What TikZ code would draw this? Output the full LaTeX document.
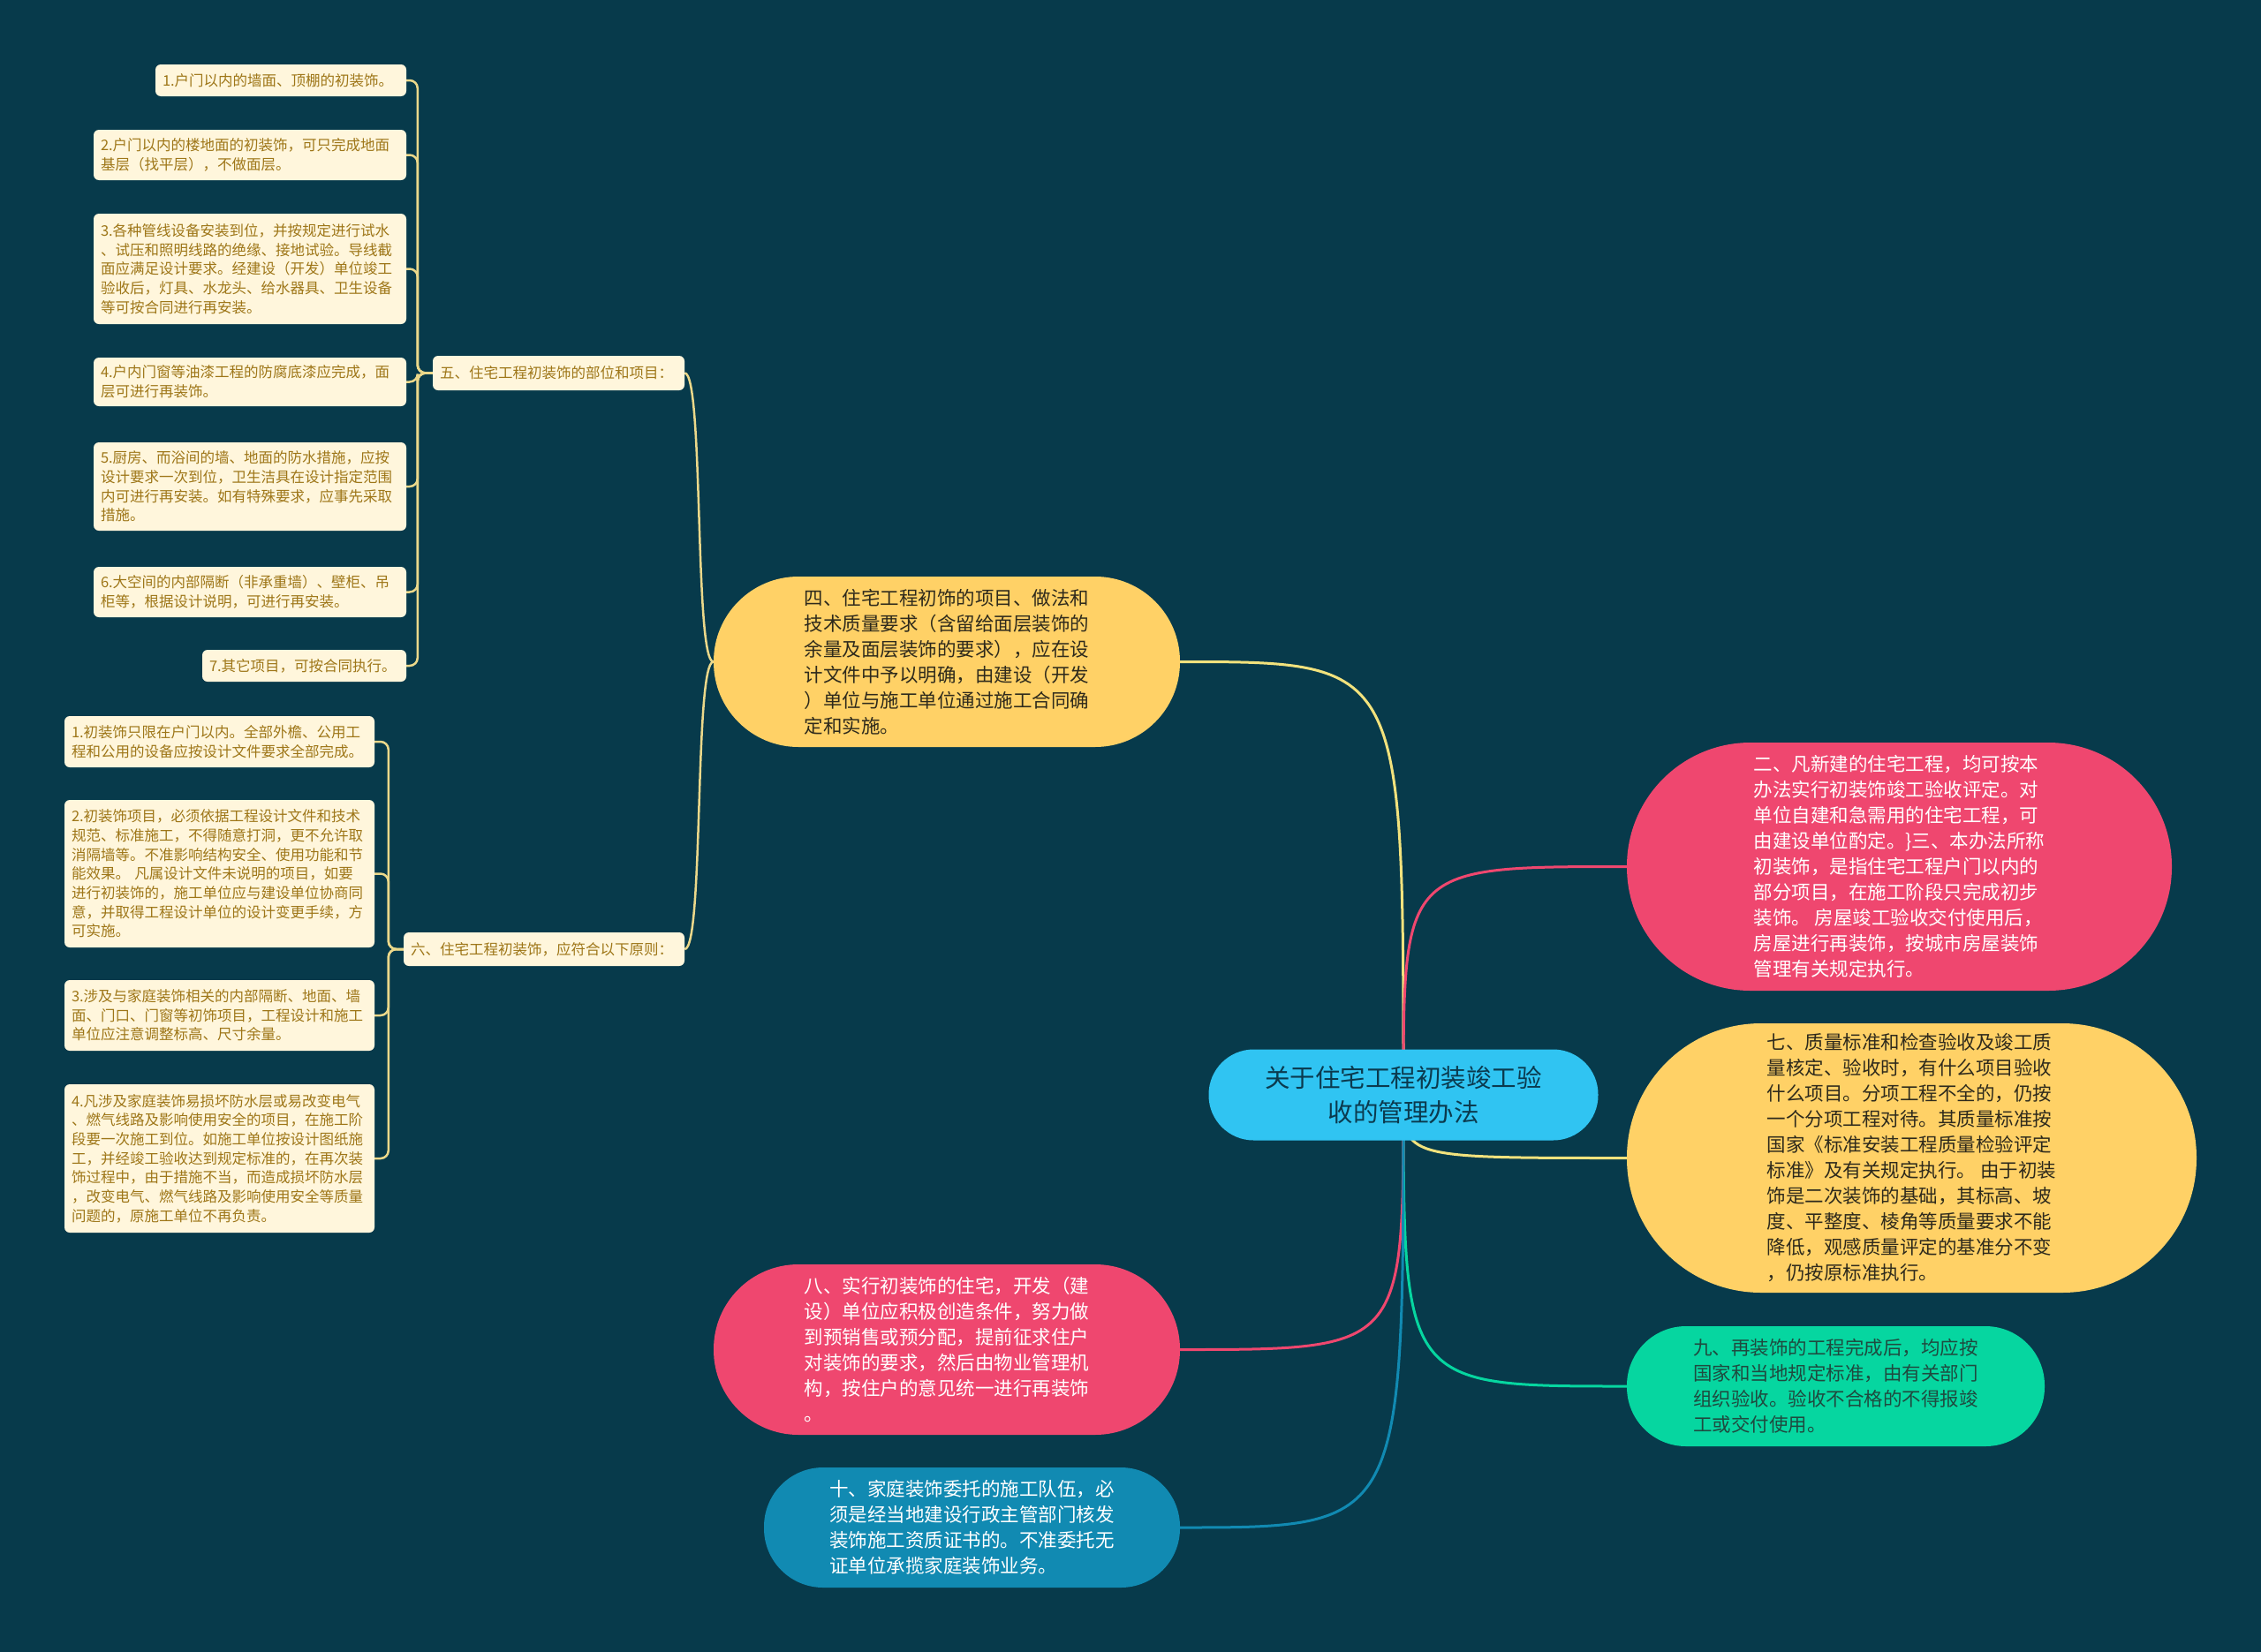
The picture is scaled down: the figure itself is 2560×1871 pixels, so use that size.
\documentclass[tikz,border=0pt]{standalone}
\usepackage{fontspec}
\setmainfont{Noto Sans CJK SC}
\usetikzlibrary{calc}
\definecolor{bgc}{HTML}{073A4B}
\definecolor{leaffill}{HTML}{FFF6DC}
\definecolor{leaftext}{HTML}{9E7618}
\definecolor{bracket}{HTML}{EBD88A}
\definecolor{ylw}{HTML}{F2E27D}
\definecolor{pnk}{HTML}{EF476F}
\definecolor{grn}{HTML}{06D6A0}
\definecolor{blu}{HTML}{118AB2}
\definecolor{cen}{HTML}{30C4F2}
\definecolor{yfill}{HTML}{FFD166}
\definecolor{darktxt}{HTML}{2E2A1C}
\definecolor{grntxt}{HTML}{1F4A3F}
\definecolor{centxt}{HTML}{0B3A4E}
\pgfdeclarelayer{back}
\pgfdeclarelayer{edges}
\pgfsetlayers{back,edges,main}
\begin{document}
\begin{tikzpicture}[x=1pt,y=-1pt,
  leaf/.style={fill=leaffill, text=leaftext, rounded corners=6pt, inner xsep=8pt, inner ysep=0pt, align=left, font=\fontsize{16.5}{21.7}\selectfont},
  big/.style={align=left, inner sep=0pt, font=\fontsize{21.5}{29}\selectfont},
  conn/.style={line width=3pt},
  bline/.style={draw=bracket, line width=2.5pt},
]
\begin{pgfonlayer}{back}
\fill[bgc] (0,0) rectangle (2560,1871);
\end{pgfonlayer}
\useasboundingbox (0,0) rectangle (2560,1871);

% central
\node[fill=cen, text=centxt, align=center, inner sep=0pt, minimum width=441pt, minimum height=103pt, rounded corners=51pt, font=\fontsize{28.5}{39}\selectfont] (c) at (1589,1240) {关于住宅工程初装竣工验\\收的管理办法};

% main branches
\node[big, fill=yfill, text=darktxt, minimum width=528pt, minimum height=193pt, rounded corners=96pt] (s4) at (1072,749.5) {四、住宅工程初饰的项目、做法和\\技术质量要求（含留给面层装饰的\\余量及面层装饰的要求），应在设\\计文件中予以明确，由建设（开发\\）单位与施工单位通过施工合同确\\定和实施。};

\node[big, fill=pnk, text=white, minimum width=617pt, minimum height=281pt, rounded corners=140pt] (s2) at (2150.5,981.5) {二、凡新建的住宅工程，均可按本\\办法实行初装饰竣工验收评定。对\\单位自建和急需用的住宅工程，可\\由建设单位酌定。\}三、本办法所称\\初装饰，是指住宅工程户门以内的\\部分项目，在施工阶段只完成初步\\装饰。 房屋竣工验收交付使用后，\\房屋进行再装饰，按城市房屋装饰\\管理有关规定执行。};

\node[big, fill=yfill, text=darktxt, minimum width=645pt, minimum height=305pt, rounded corners=152pt] (s7) at (2164.5,1311.5) {七、质量标准和检查验收及竣工质\\量核定、验收时，有什么项目验收\\什么项目。分项工程不全的，仍按\\一个分项工程对待。其质量标准按\\国家《标准安装工程质量检验评定\\标准》及有关规定执行。 由于初装\\饰是二次装饰的基础，其标高、坡\\度、平整度、棱角等质量要求不能\\降低，观感质量评定的基准分不变\\，仍按原标准执行。};

\node[big, fill=grn, text=grntxt, minimum width=473pt, minimum height=136pt, rounded corners=67pt] (s9) at (2078.5,1570) {九、再装饰的工程完成后，均应按\\国家和当地规定标准，由有关部门\\组织验收。验收不合格的不得报竣\\工或交付使用。};

\node[big, fill=pnk, text=white, minimum width=528pt, minimum height=193pt, rounded corners=96pt] (s8) at (1072,1528.5) {八、实行初装饰的住宅，开发（建\\设）单位应积极创造条件，努力做\\到预销售或预分配，提前征求住户\\对装饰的要求，然后由物业管理机\\构，按住户的意见统一进行再装饰\\。};

\node[big, fill=blu, text=white, minimum width=471pt, minimum height=136pt, rounded corners=67pt] (s10) at (1100.5,1730) {十、家庭装饰委托的施工队伍，必\\须是经当地建设行政主管部门核发\\装饰施工资质证书的。不准委托无\\证单位承揽家庭装饰业务。};

% labels
\node[leaf, text width=269pt, minimum height=39pt] (l5) at (632.5,422.5) {五、住宅工程初装饰的部位和项目：};
\node[leaf, text width=302pt, minimum height=38pt] (l6) at (616,1075) {六、住宅工程初装饰，应符合以下原则：};

% leaves of five
\node[leaf, text width=268pt, minimum height=36pt] (a1) at (318,91) {1.户门以内的墙面、顶棚的初装饰。};
\node[leaf, text width=338pt, minimum height=57pt] (a2) at (283,175.5) {2.户门以内的楼地面的初装饰，可只完成地面\\基层（找平层），不做面层。};
\node[leaf, text width=338pt, minimum height=125pt] (a3) at (283,304.5) {3.各种管线设备安装到位，并按规定进行试水\\、试压和照明线路的绝缘、接地试验。导线截\\面应满足设计要求。经建设（开发）单位竣工\\验收后，灯具、水龙头、给水器具、卫生设备\\等可按合同进行再安装。};
\node[leaf, text width=338pt, minimum height=55pt] (a4) at (283,432.5) {4.户内门窗等油漆工程的防腐底漆应完成，面\\层可进行再装饰。};
\node[leaf, text width=338pt, minimum height=100pt] (a5) at (283,551) {5.厨房、而浴间的墙、地面的防水措施，应按\\设计要求一次到位，卫生洁具在设计指定范围\\内可进行再安装。如有特殊要求，应事先采取\\措施。};
\node[leaf, text width=338pt, minimum height=57pt] (a6) at (283,670.5) {6.大空间的内部隔断（非承重墙）、壁柜、吊\\柜等，根据设计说明，可进行再安装。};
\node[leaf, text width=215pt, minimum height=36pt] (a7) at (344.5,754) {7.其它项目，可按合同执行。};

% leaves of six
\node[leaf, text width=335pt, minimum height=58pt] (b1) at (248.5,840) {1.初装饰只限在户门以内。全部外檐、公用工\\程和公用的设备应按设计文件要求全部完成。};
\node[leaf, text width=335pt, minimum height=167pt] (b2) at (248.5,989.5) {2.初装饰项目，必须依据工程设计文件和技术\\规范、标准施工，不得随意打洞，更不允许取\\消隔墙等。不准影响结构安全、使用功能和节\\能效果。 凡属设计文件未说明的项目，如要\\进行初装饰的，施工单位应与建设单位协商同\\意，并取得工程设计单位的设计变更手续，方\\可实施。};
\node[leaf, text width=335pt, minimum height=80pt] (b3) at (248.5,1150) {3.涉及与家庭装饰相关的内部隔断、地面、墙\\面、门口、门窗等初饰项目，工程设计和施工\\单位应注意调整标高、尺寸余量。};
\node[leaf, text width=335pt, minimum height=168pt] (b4) at (248.5,1312) {4.凡涉及家庭装饰易损坏防水层或易改变电气\\、燃气线路及影响使用安全的项目，在施工阶\\段要一次施工到位。如施工单位按设计图纸施\\工，并经竣工验收达到规定标准的，在再次装\\饰过程中，由于措施不当，而造成损坏防水层\\，改变电气、燃气线路及影响使用安全等质量\\问题的，原施工单位不再负责。};

\begin{pgfonlayer}{edges}
\draw[conn, draw=ylw] (c.center) .. controls (c.center |- s4.east) .. (s4.east);
\draw[conn, draw=pnk] (c.center) .. controls (c.center |- s2.west) .. (s2.west);
\draw[conn, draw=ylw] (c.center) .. controls (c.center |- s7.west) .. (s7.west);
\draw[conn, draw=grn] (c.center) .. controls (c.center |- s9.west) .. (s9.west);
\draw[conn, draw=pnk] (c.center) .. controls (c.center |- s8.east) .. (s8.east);
\draw[conn, draw=blu] (c.center) .. controls (c.center |- s10.east) .. (s10.east);
\draw[bline] (s4.west) .. controls +(-22,0) and +(22,0) .. (l5.east);
\draw[bline] (s4.west) .. controls +(-22,0) and +(22,0) .. (l6.east);
\foreach \n in {a1,a2,a3,a4,a5,a6,a7}
  \draw[bline, rounded corners=9pt] (l5.west) -- ++(-17,0) |- (\n.east);
\foreach \n in {b1,b2,b3,b4}
  \draw[bline, rounded corners=9pt] (l6.west) -- ++(-17,0) |- (\n.east);
\end{pgfonlayer}
\end{tikzpicture}
\end{document}
